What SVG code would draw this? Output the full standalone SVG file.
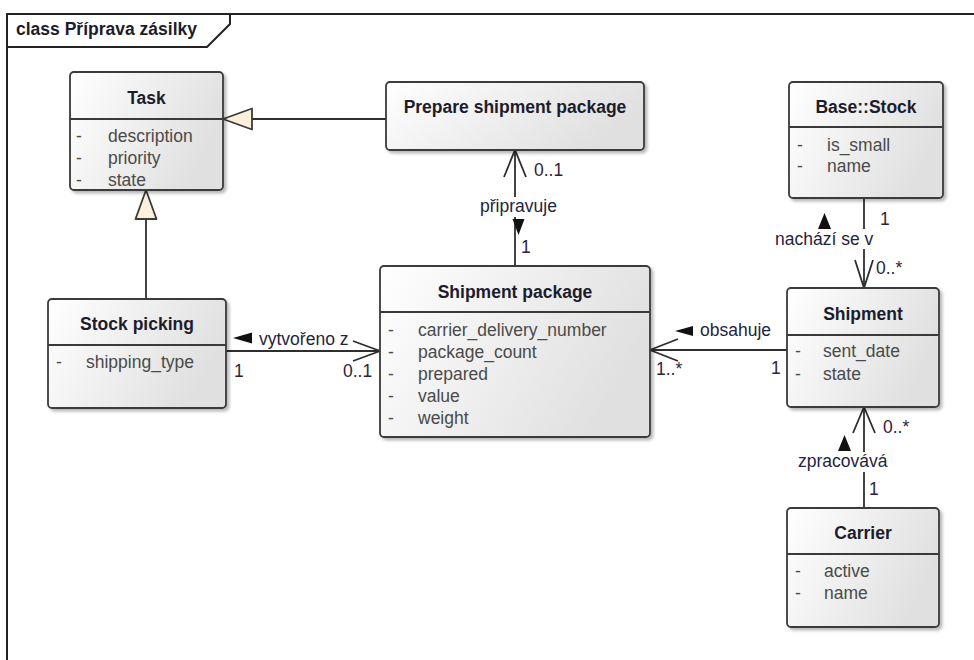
<svg xmlns="http://www.w3.org/2000/svg" width="974" height="660" viewBox="0 0 974 660">
  <defs>
    <linearGradient id="nodeFill" x1="0" y1="0" x2="1" y2="0.35">
      <stop offset="0" stop-color="#ffffff"/>
      <stop offset="1" stop-color="#e0e0e0"/>
    </linearGradient>
    <filter id="shadow" x="-10%" y="-10%" width="130%" height="130%">
      <feDropShadow dx="2.5" dy="2.5" stdDeviation="1.5" flood-color="#000" flood-opacity="0.28"/>
    </filter>
  </defs>
  <style>
    .box { fill: url(#nodeFill); stroke: #3a3a3a; stroke-width: 1.8; filter: url(#shadow); }
    .div { stroke: #3a3a3a; stroke-width: 1.8; }
    .title { font-family: "Liberation Sans", Arial, sans-serif; font-size: 17.5px; font-weight: bold; fill: #1c1c2c; text-anchor: middle; }
    .attr { font-family: "Liberation Sans", Arial, sans-serif; font-size: 17.5px; fill: #4a4a4a; }
    .lbl { font-family: "Liberation Sans", Arial, sans-serif; font-size: 17.5px; fill: #1e2440; }
    .mult { font-family: "Liberation Sans", Arial, sans-serif; font-size: 17.5px; fill: #2e1e3a; }
    .line { stroke: #2e2e2e; stroke-width: 1.8; fill: none; }
    .gen { fill: #fcefdc; stroke: #3a3a3a; stroke-width: 1.8; stroke-linejoin: round; }
    .dir { fill: #111; }
    .mask { fill: #ffffff; }
    .frame { stroke: #222; stroke-width: 2; fill: none; }
  </style>

  <rect x="0" y="0" width="974" height="660" fill="#ffffff"/>

  <!-- diagram frame with name tab -->
  <g id="frame">
    <path class="frame" d="M7,662 V14 H976"/>
    <path class="frame" d="M7,47 H207 L230,24 V14"/>
    <text x="16" y="35" class="title" style="text-anchor:start">class Příprava zásilky</text>
  </g>

  <!-- connectors -->
  <g id="connectors">
    <!-- Prepare shipment package generalizes Task -->
    <line class="line" x1="386" y1="119" x2="252" y2="119"/>
    <polygon class="gen" points="223,119 252,108.5 252,129.5"/>
    <!-- Stock picking generalizes Task -->
    <line class="line" x1="146" y1="299" x2="146" y2="219"/>
    <polygon class="gen" points="146,190 135.5,219 156.5,219"/>

    <!-- připravuje -->
    <line class="line" x1="515" y1="266" x2="515" y2="150"/>
    <polyline class="line" points="504,177 515,150 526,177"/>
    <rect class="mask" x="478" y="197" width="82" height="20"/>
    <text class="lbl" x="518.5" y="212" text-anchor="middle">připravuje</text>
    <polygon class="dir" points="512.5,219 524.5,219 518.5,235"/>
    <text class="mult" x="534" y="176">0..1</text>
    <text class="mult" x="521" y="253">1</text>

    <!-- vytvořeno z -->
    <line class="line" x1="226" y1="351" x2="380" y2="351"/>
    <polyline class="line" points="353,341 380,351 353,361"/>
    <polygon class="dir" points="233,338 252,332.5 252,343.5"/>
    <text class="lbl" x="259" y="345">vytvořeno z</text>
    <text class="mult" x="234" y="377">1</text>
    <text class="mult" x="343" y="377">0..1</text>

    <!-- obsahuje -->
    <line class="line" x1="787" y1="350" x2="650" y2="350"/>
    <polyline class="line" points="678,339 650,350 678,361"/>
    <polygon class="dir" points="675,331 693,326 693,336"/>
    <text class="lbl" x="700" y="336">obsahuje</text>
    <text class="mult" x="656" y="375">1..*</text>
    <text class="mult" x="771" y="374">1</text>

    <!-- nachází se v -->
    <line class="line" x1="864" y1="198" x2="864" y2="288"/>
    <polyline class="line" points="855,260 864,288 873,260"/>
    <rect class="mask" x="773" y="229" width="102" height="20"/>
    <text class="lbl" x="775" y="245">nachází se v</text>
    <polygon class="dir" points="818,229 831,229 824.5,213"/>
    <text class="mult" x="880" y="225">1</text>
    <text class="mult" x="876" y="274">0..*</text>

    <!-- zpracovává -->
    <line class="line" x1="864" y1="508" x2="864" y2="407"/>
    <polyline class="line" points="853,433 864,407 875,433"/>
    <rect class="mask" x="796" y="452" width="95" height="20"/>
    <text class="lbl" x="798" y="467">zpracovává</text>
    <polygon class="dir" points="838,451 851,451 844.5,435"/>
    <text class="mult" x="883" y="433">0..*</text>
    <text class="mult" x="869" y="495">1</text>
  </g>

  <!-- classes -->
  <g id="task">
    <rect class="box" x="70" y="72" width="153" height="118" rx="4"/>
    <line class="div" x1="70" y1="119" x2="223" y2="119"/>
    <text class="title" x="146.5" y="104">Task</text>
    <text class="attr" x="76" y="142">-</text>
    <text class="attr" x="108" y="142">description</text>
    <text class="attr" x="76" y="164">-</text>
    <text class="attr" x="108" y="164">priority</text>
    <text class="attr" x="76" y="186">-</text>
    <text class="attr" x="108" y="186">state</text>
  </g>

  <g id="prepare-shipment-package">
    <rect class="box" x="386" y="82" width="258" height="68" rx="4"/>
    <text class="title" x="515" y="113">Prepare shipment package</text>
  </g>

  <g id="base-stock">
    <rect class="box" x="789" y="82" width="154" height="116" rx="4"/>
    <line class="div" x1="789" y1="127" x2="943" y2="127"/>
    <text class="title" x="866" y="113">Base::Stock</text>
    <text class="attr" x="797" y="151">-</text>
    <text class="attr" x="827" y="151">is_small</text>
    <text class="attr" x="797" y="172">-</text>
    <text class="attr" x="827" y="172">name</text>
  </g>

  <g id="stock-picking">
    <rect class="box" x="48" y="299" width="178" height="109" rx="4"/>
    <line class="div" x1="48" y1="345" x2="226" y2="345"/>
    <text class="title" x="137" y="330">Stock picking</text>
    <text class="attr" x="56" y="368">-</text>
    <text class="attr" x="86" y="368">shipping_type</text>
  </g>

  <g id="shipment-package">
    <rect class="box" x="380" y="266" width="270" height="171" rx="4"/>
    <line class="div" x1="380" y1="312" x2="650" y2="312"/>
    <text class="title" x="515" y="298">Shipment package</text>
    <text class="attr" x="388" y="336">-</text>
    <text class="attr" x="418" y="336">carrier_delivery_number</text>
    <text class="attr" x="388" y="358">-</text>
    <text class="attr" x="418" y="358">package_count</text>
    <text class="attr" x="388" y="380">-</text>
    <text class="attr" x="418" y="380">prepared</text>
    <text class="attr" x="388" y="402">-</text>
    <text class="attr" x="418" y="402">value</text>
    <text class="attr" x="388" y="424">-</text>
    <text class="attr" x="418" y="424">weight</text>
  </g>

  <g id="shipment">
    <rect class="box" x="787" y="288" width="152" height="119" rx="4"/>
    <line class="div" x1="787" y1="335" x2="939" y2="335"/>
    <text class="title" x="863" y="320">Shipment</text>
    <text class="attr" x="795" y="357">-</text>
    <text class="attr" x="823" y="357">sent_date</text>
    <text class="attr" x="795" y="380">-</text>
    <text class="attr" x="823" y="380">state</text>
  </g>

  <g id="carrier">
    <rect class="box" x="787" y="508" width="152" height="119" rx="4"/>
    <line class="div" x1="787" y1="554" x2="939" y2="554"/>
    <text class="title" x="863" y="539">Carrier</text>
    <text class="attr" x="795" y="577">-</text>
    <text class="attr" x="824" y="577">active</text>
    <text class="attr" x="795" y="599">-</text>
    <text class="attr" x="824" y="599">name</text>
  </g>
</svg>
